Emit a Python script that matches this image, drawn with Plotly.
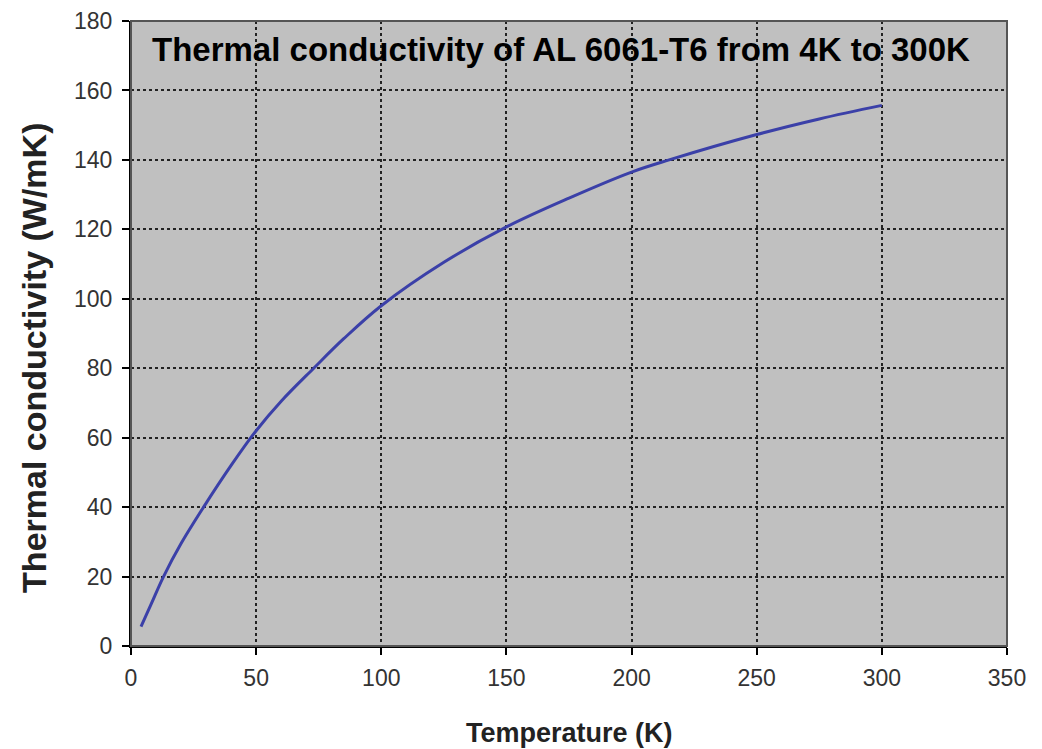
import plotly.graph_objects as go

temperature_k = [4, 8, 13, 20, 29, 40, 50, 60, 73, 85, 100, 125, 150, 175, 200, 215, 250, 275, 300]
conductivity_w_mk = [5.6, 12, 20, 29.5, 40, 52, 62, 70.5, 80, 88.5, 98, 110.5, 120.7, 129, 136.5, 140, 147.3, 151.8, 155.7]

x_ticks = [0, 50, 100, 150, 200, 250, 300, 350]
y_ticks = [0, 20, 40, 60, 80, 100, 120, 140, 160, 180]

title_text = "Thermal conductivity of AL 6061-T6 from 4K to 300K"
x_title = "Temperature (K)"
y_title = "Thermal conductivity (W/mK)"

FONT = "Liberation Sans, Arial, sans-serif"

fig = go.Figure()
fig.add_trace(go.Scatter(
    x=temperature_k, y=conductivity_w_mk, mode="lines",
    line=dict(color="#3b40a8", width=3, shape="spline", smoothing=1.0),
    showlegend=False, hoverinfo="x+y",
))

# page body has an 8px default margin; size the figure to fit the 1042x749 window
fig.update_layout(
    width=1034, height=741,
    margin=dict(l=123, r=35, t=13, b=103),
    paper_bgcolor="white",
    plot_bgcolor="#c0c0c0",
    font=dict(family=FONT, color="#222"),
    shapes=[dict(type="rect", xref="paper", yref="paper", x0=0, y0=0, x1=1, y1=1,
                 line=dict(color="#555", width=2), fillcolor="rgba(0,0,0,0)", layer="above")],
    annotations=[
        dict(text="<b>" + title_text + "</b>", xref="paper", yref="paper",
             x=0.491, y=0.955, xanchor="center", yanchor="middle", showarrow=False,
             font=dict(size=33, color="black", family=FONT)),
        dict(text="<b>" + x_title + "</b>", xref="paper", yref="paper",
             x=0.5, y=-0.139, xanchor="center", yanchor="middle", showarrow=False,
             font=dict(size=27, color="#222", family=FONT)),
        dict(text="<b>" + y_title + "</b>", xref="paper", yref="paper",
             x=-0.1107, y=0.461, xanchor="center", yanchor="middle", showarrow=False,
             textangle=-90, font=dict(size=34, color="#222", family=FONT)),
    ],
)

fig.update_xaxes(
    range=[0, 350], tickvals=x_ticks, ticktext=[str(v) for v in x_ticks],
    showgrid=True, gridcolor="#222", griddash="dot", gridwidth=2,
    showline=True, linecolor="black", linewidth=2,
    ticks="outside", ticklen=7, tickcolor="black", tickwidth=2,
    tickfont=dict(size=23, color="#333"), ticklabelstandoff=3,
    zeroline=False, automargin=False,
)
fig.update_yaxes(
    range=[0, 180], tickvals=y_ticks, ticktext=[str(v) for v in y_ticks],
    showgrid=True, gridcolor="#222", griddash="dot", gridwidth=2,
    showline=True, linecolor="black", linewidth=2,
    ticks="outside", ticklen=7, tickcolor="black", tickwidth=2,
    tickfont=dict(size=23, color="#333"), ticklabelstandoff=5,
    zeroline=False, automargin=False,
)

fig.write_html("out.html")
